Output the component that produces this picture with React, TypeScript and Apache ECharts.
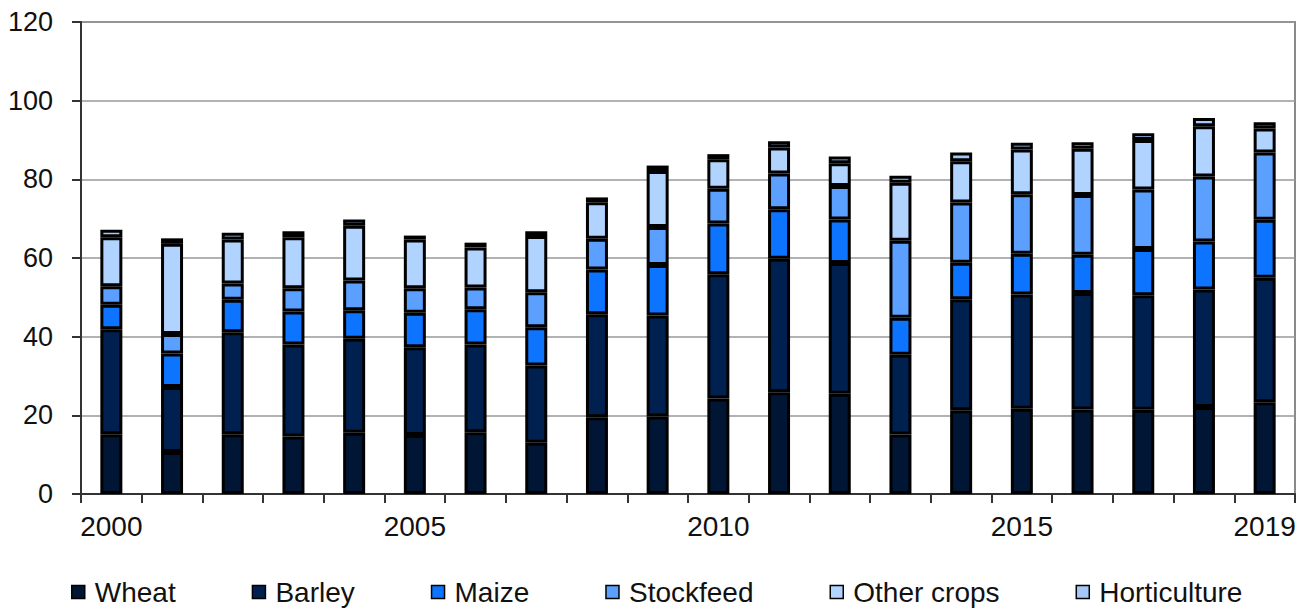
import React, { useEffect, useRef } from "react";
import * as echarts from "echarts";

const years = ["2000","2001","2002","2003","2004","2005","2006","2007","2008","2009","2010","2011","2012","2013","2014","2015","2016","2017","2018","2019"];
const wheat = [15.2,10.7,15.2,14.6,15.6,15.0,15.7,13.0,19.5,19.7,24.3,25.9,25.5,15.1,21.3,21.7,21.5,21.4,22.1,23.3];
const barley = [26.7,16.5,25.9,23.4,23.9,22.3,22.3,19.7,26.2,25.7,31.6,33.9,33.2,20.3,28.2,29.0,29.6,29.1,29.9,31.7];
const maize = [6.2,8.5,8.3,8.4,7.2,8.8,9.0,9.7,11.4,12.8,12.9,12.6,11.1,9.4,9.3,10.4,9.7,11.8,12.2,14.7];
const stockfeed = [4.7,5.0,4.1,5.9,7.6,6.2,5.5,8.9,7.8,9.7,8.8,9.1,8.5,19.6,15.3,15.1,15.2,15.1,16.5,17.1];
const otherCrops = [12.5,22.9,11.2,13.0,13.9,12.4,10.2,14.3,9.3,14.2,7.5,6.6,5.8,14.7,10.5,11.4,11.8,12.6,12.8,6.1];
const horticulture = [1.9,1.4,1.7,1.5,1.6,1.0,1.2,1.2,1.2,1.4,1.3,1.6,1.7,1.8,2.2,1.7,1.6,1.7,2.1,1.6];
const shownYearIdx = [0, 5, 10, 15, 19];

const seriesDefs = [
  { name: "Wheat", data: wheat, color: "#001634" },
  { name: "Barley", data: barley, color: "#00214f" },
  { name: "Maize", data: maize, color: "#0d74ff" },
  { name: "Stockfeed", data: stockfeed, color: "#5ba0ff" },
  { name: "Other crops", data: otherCrops, color: "#b0d3ff" },
  { name: "Horticulture", data: horticulture, color: "#a6c8f6" },
];

const FONT = "'Liberation Sans', Arial, sans-serif";

export default function App() {
  const ref = useRef<HTMLDivElement>(null);
  useEffect(() => {
    if (!ref.current) return;
    const chart = echarts.init(ref.current, null, { renderer: "svg" });
    chart.setOption({
      animation: false,
      backgroundColor: "#ffffff",
      textStyle: { fontFamily: FONT },
      grid: {
        left: 81,
        right: 17,
        top: 22,
        bottom: 117,
        show: true,
        borderColor: "#8a8a8a",
        borderWidth: 2,
      },
      legend: {
        left: 71,
        top: 577,
        padding: 0,
        itemWidth: 13,
        itemHeight: 13,
        itemGap: 76,
        icon: "rect",
        itemStyle: { borderColor: "#000", borderWidth: 1.5 },
        textStyle: { fontSize: 28, color: "#111", fontFamily: FONT, lineHeight: 30, padding: [0, 0, 0, 5] },
        data: seriesDefs.map((s) => s.name),
      },
      xAxis: {
        type: "category",
        data: years,
        axisLine: { lineStyle: { color: "#333", width: 2 } },
        axisTick: { show: true, interval: 0, length: 9, lineStyle: { color: "#333", width: 2 } },
        axisLabel: {
          interval: (i: number) => shownYearIdx.includes(i),
          fontSize: 28,
          color: "#111",
          margin: 18,
          fontFamily: FONT,
        },
      },
      yAxis: {
        type: "value",
        min: 0,
        max: 120,
        interval: 20,
        axisLine: { show: true, lineStyle: { color: "#333", width: 2 } },
        axisTick: { show: true, length: 9, lineStyle: { color: "#333", width: 2 } },
        axisLabel: { fontSize: 27, color: "#111", margin: 28, fontFamily: FONT },
        splitLine: { lineStyle: { color: "#999", width: 1.5 } },
      },
      series: seriesDefs.map((s) => ({
        name: s.name,
        type: "bar",
        stack: "total",
        data: s.data,
        barWidth: 22,
        itemStyle: { color: s.color, borderColor: "#000", borderWidth: 3 },
      })),
    });
    return () => chart.dispose();
  }, []);
  return <div ref={ref} style={{ width: 1312, height: 611, position: "absolute", left: 0, top: 0 }} />;
}
